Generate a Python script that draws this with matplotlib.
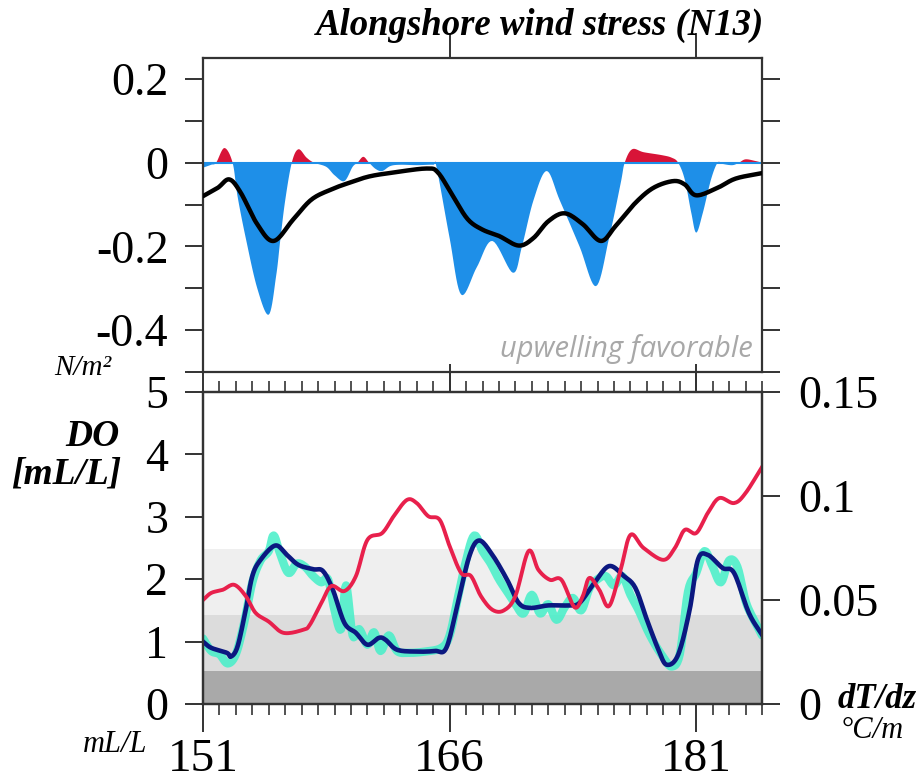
import matplotlib
matplotlib.use("Agg")
import matplotlib.pyplot as plt
import numpy as np

# ---------------- data ----------------
wind_day = [151.0, 151.5, 151.8, 152.3, 152.8, 153.1, 153.6, 154.3, 155.0, 155.45, 155.7, 156.0, 156.4,
            156.8, 157.3, 157.75, 158.5, 159.0, 159.6, 160.1, 160.4, 160.75, 161.1, 161.5, 161.9, 162.4,
            163.0, 164.0, 165.0, 165.2, 166.0, 166.7, 167.65, 168.6, 169.85, 170.4, 171.1, 171.9, 172.7,
            173.9, 174.9, 175.7, 176.4, 176.65, 177.1, 177.8, 178.9, 179.5, 179.9, 180.3, 180.7, 181.0,
            181.4, 181.9, 182.3, 182.6, 183.2, 183.6, 184.0, 184.6, 185.0]
wind_val = [-0.012, -0.005, 0.0, 0.035, 0.0, -0.08, -0.18, -0.30, -0.363, -0.27, -0.185, -0.09, 0.0,
            0.032, 0.012, 0.0, -0.01, -0.03, -0.044, -0.01, 0.0, 0.014, 0.0, -0.015, -0.02, -0.008,
            -0.005, -0.006, -0.005, -0.01, -0.18, -0.315, -0.25, -0.187, -0.263, -0.2, -0.09, -0.02, -0.09,
            -0.2, -0.295, -0.18, -0.05, 0.0, 0.032, 0.025, 0.018, 0.012, 0.0, -0.04, -0.12, -0.167,
            -0.12, -0.04, 0.0, -0.003, -0.006, 0.0, 0.008, 0.004, 0.0]

smooth_day = [151.0, 151.9, 152.6, 153.3, 154.3, 155.3, 156.5, 157.6, 158.8, 159.9, 161.1, 162.5, 164.6,
              165.3, 166.2, 167.1, 168.0, 169.0, 170.2, 171.1, 172.0, 173.0, 174.1, 175.2, 176.1, 177.3,
              178.4, 179.6, 180.3, 181.0, 182.3, 183.4, 185.0]
smooth_val = [-0.08, -0.06, -0.04, -0.072, -0.147, -0.187, -0.135, -0.088, -0.064, -0.048, -0.033, -0.024,
              -0.014, -0.024, -0.08, -0.135, -0.16, -0.175, -0.198, -0.18, -0.14, -0.121, -0.147, -0.187,
              -0.151, -0.096, -0.06, -0.044, -0.052, -0.078, -0.06, -0.038, -0.025]

do_day = [151.0, 151.5, 152.45, 152.7, 153.1, 153.6, 154.0, 154.5, 155.4, 156.1, 156.8, 157.7, 158.3,
          158.9, 159.6, 160.3, 161.0, 161.7, 162.1, 162.8, 164.0, 165.1, 165.8, 166.5, 167.2, 167.8,
          168.6, 169.5, 170.2, 170.9, 172.0, 173.2, 173.9, 174.8, 175.7, 176.6, 177.3, 178.0, 178.7,
          179.2, 179.9, 180.6, 181.1, 181.7, 182.6, 183.3, 184.2, 185.0]
do_val = [1.0, 0.9, 0.82, 0.76, 0.92, 1.51, 2.05, 2.31, 2.54, 2.39, 2.23, 2.16, 2.13,
          1.83, 1.30, 1.14, 0.95, 1.06, 1.03, 0.87, 0.84, 0.85, 0.9, 1.62, 2.37, 2.62,
          2.39, 1.99, 1.62, 1.54, 1.58, 1.58, 1.62, 1.94, 2.21, 2.05, 1.86, 1.35, 0.87,
          0.63, 0.79, 1.51, 2.31, 2.39, 2.18, 2.1, 1.46, 1.11]

raw_day = [151.0, 151.5, 152.0, 152.5, 153.0, 153.5, 154.0, 154.5, 155.0, 155.3, 155.7, 156.2, 156.7,
           157.2, 157.7, 158.2, 158.6, 159.0, 159.4, 159.7, 160.1, 160.5, 161.0, 161.4, 161.8, 162.3,
           162.8, 163.5, 164.5, 165.5, 166.0, 166.5, 167.0, 167.5, 168.0, 168.5, 169.0, 169.5, 170.0,
           170.5, 171.0, 171.5, 172.0, 172.5, 173.0, 173.5, 174.0, 174.5, 175.0, 175.5, 176.0, 176.5,
           177.0, 177.5, 178.0, 178.5, 179.0, 179.5, 180.0, 180.5, 181.0, 181.5, 182.0, 182.5, 183.0,
           183.5, 184.0, 184.5, 185.0]
raw_val = [1.05, 0.85, 0.8, 0.65, 0.8, 1.3, 1.95, 2.3, 2.45, 2.7, 2.4, 2.1, 2.25,
           2.2, 2.05, 1.95, 2.0, 1.5, 1.2, 1.9, 1.1, 1.2, 0.95, 1.15, 0.85, 1.1,
           0.85, 0.82, 0.84, 0.9, 1.1, 1.7, 2.3, 2.7, 2.45, 2.25, 2.0, 1.8, 1.6,
           1.45, 1.75, 1.45, 1.6, 1.35, 1.55, 1.7, 1.5, 1.85, 2.0, 2.05, 1.9, 2.05,
           1.75, 1.5, 1.2, 0.95, 0.75, 0.6, 0.8, 1.8, 2.1, 2.45, 2.2, 1.95, 2.3,
           2.2, 1.65, 1.35, 1.1]

dtdz_day = [151.0, 151.5, 152.2, 152.9, 153.6, 154.2, 155.0, 155.9, 157.1, 157.5, 158.2, 158.8, 159.6,
            160.3, 161.0, 161.9, 162.6, 163.4, 164.0, 164.7, 165.4, 166.0, 166.7, 167.3, 167.9, 168.6,
            169.3, 170.0, 170.8, 171.4, 172.1, 172.8, 173.6, 174.1, 174.5, 175.1, 175.7, 176.4, 177.0,
            177.8, 179.0, 179.7, 180.3, 181.0, 181.7, 182.4, 183.3, 184.0, 185.1]
dtdz_val = [0.050, 0.0534, 0.0549, 0.0573, 0.0519, 0.0438, 0.0396, 0.0342, 0.0357, 0.0381, 0.0486, 0.0567,
            0.0543, 0.0615, 0.0789, 0.0822, 0.0903, 0.0981, 0.0966, 0.0903, 0.0885, 0.0759, 0.063, 0.0615,
            0.0519, 0.0453, 0.045, 0.0519, 0.0735, 0.0645, 0.0597, 0.0597, 0.0465, 0.0519, 0.0606, 0.0549,
            0.0471, 0.0645, 0.0813, 0.075, 0.0693, 0.075, 0.0837, 0.0822, 0.0918, 0.099, 0.0966, 0.1014,
            0.1152]

xticks_major = [151, 166, 181]
top_yticks = [0.2, 0, -0.2, -0.4]
top_yticklabels = ["0.2", "0", "-0.2", "-0.4"]
do_ticks = [0, 1, 2, 3, 4, 5]
dtdz_ticks = [0, 0.05, 0.1, 0.15]
dtdz_ticklabels = ["0", "0.05", "0.1", "0.15"]
band_edges = [0, 0.53, 1.43, 2.48]
band_colors = ["#a9a9a9", "#dcdcdc", "#efefef"]


def smooth_path(x, y, n=12):
    """Catmull-Rom rendering of the read points (drawing only)."""
    x = np.asarray(x, float)
    y = np.asarray(y, float)
    px = np.concatenate([[2 * x[0] - x[1]], x, [2 * x[-1] - x[-2]]])
    py = np.concatenate([[2 * y[0] - y[1]], y, [2 * y[-1] - y[-2]]])
    t = np.linspace(0, 1, n, endpoint=False)[:, None]
    t2, t3 = t * t, t * t * t
    out = []
    for P in (px, py):
        p0, p1, p2, p3 = P[:-3], P[1:-2], P[2:-1], P[3:]
        seg = 0.5 * ((2 * p1) + (-p0 + p2) * t + (2 * p0 - 5 * p1 + 4 * p2 - p3) * t2
                     + (-p0 + 3 * p1 - 3 * p2 + p3) * t3)
        out.append(np.concatenate([seg.T.ravel(), [P[-2]]]))
    return out[0], out[1]


# ---------------- figure ----------------
SERIF = ["Liberation Serif", "DejaVu Serif"]
plt.rcParams["font.family"] = SERIF
fig = plt.figure(figsize=(9.24, 7.82), dpi=100)
L, R = 203 / 924, 762 / 924
ax1 = fig.add_axes([L, 1 - 372 / 782, R - L, (372 - 58) / 782])
ax2 = fig.add_axes([L, 1 - 704 / 782, R - L, (704 - 392) / 782])

spine_col = "#333333"
for ax in (ax1, ax2):
    for s in ax.spines.values():
        s.set_color(spine_col)
        s.set_linewidth(1.6)
    ax.set_xlim(151, 185)

# ---- top panel ----
wd, wv = smooth_path(wind_day, wind_val, n=10)
ax1.fill_between(wd, 0, wv, where=wv <= 0, interpolate=True, color="#1e8fe8", lw=0)
ax1.fill_between(wd, 0, wv, where=wv >= 0, interpolate=True, color="#d81438", lw=0)
ax1.axhline(0, color="#1e8fe8", lw=1.5, zorder=2)
sx, sy = smooth_path(smooth_day, smooth_val)
ax1.plot(sx, sy, color="black", lw=3.2, solid_joinstyle="round", solid_capstyle="round", zorder=3)
ax1.set_ylim(-0.5, 0.25)
ax1.set_yticks(top_yticks)
ax1.set_yticklabels(top_yticklabels)
ax1.set_yticks(np.arange(-0.5, 0.25, 0.1), minor=True)
ax1.tick_params(axis="y", which="both", direction="out", length=13, width=1.4,
                color=spine_col, left=True, right=True, labelsize=33, pad=12)
ax1.set_xticks(xticks_major[1:])
ax1.tick_params(axis="x", which="major", direction="out", length=18, width=1.4,
                color=spine_col, top=True, bottom=True, labelbottom=False)
ax1.text(0.983, 0.025, "upwelling favorable", transform=ax1.transAxes, ha="right", va="bottom",
         fontsize=21, color="#a8a8a8", style="italic", fontweight="normal",
         family=["Open Sans", "DejaVu Sans"])

fig.text(540 / 924, 1 - 25 / 782, "Alongshore wind stress (N13)", ha="center", va="center",
         fontsize=26.5, fontweight="bold", style="italic")
fig.text(83 / 924, 1 - 368 / 782, "N/m²", ha="center", va="center", fontsize=21, style="italic")

# ---- bottom panel ----
for i in range(len(band_colors)):
    ax2.axhspan(band_edges[i], band_edges[i + 1], color=band_colors[i], lw=0, zorder=0)
rx, ry = smooth_path(raw_day, raw_val, n=6)
ax2.plot(rx, ry, color="#45efc8", lw=6, alpha=0.85, solid_joinstyle="round",
         solid_capstyle="round", zorder=1)
dx, dy = smooth_path(do_day, do_val)
ax2.plot(dx, dy, color="#0b1880", lw=3.3, solid_joinstyle="round", zorder=3)
ax2.set_ylim(0, 5)
ax2.set_yticks(do_ticks)
ax2.tick_params(axis="y", direction="out", length=13, width=1.4, color=spine_col,
                labelsize=33, pad=12)
ax2.set_xticks(xticks_major)
ax2.set_xticks(np.arange(151, 186, 1), minor=True)
ax2.tick_params(axis="x", which="major", direction="out", length=20, width=1.4, color=spine_col,
                top=True, bottom=True, labelsize=34, pad=5)
ax2.tick_params(axis="x", which="minor", direction="out", length=8, width=1.2, color=spine_col,
                top=True, bottom=True)

ax3 = ax2.twinx()
tx, ty = smooth_path(dtdz_day, dtdz_val)
ax3.plot(tx, ty, color="#e8204c", lw=2.8, solid_joinstyle="round", zorder=2)
ax3.set_ylim(0, 0.15)
ax3.set_xlim(151, 185)
ax3.set_yticks(dtdz_ticks)
ax3.set_yticklabels(dtdz_ticklabels)
ax3.tick_params(axis="y", direction="out", length=13, width=1.4, color=spine_col,
                labelsize=33, pad=13)
for s in ax3.spines.values():
    s.set_color(spine_col)
    s.set_linewidth(1.6)
ax3.set_zorder(ax2.get_zorder() + 1)
ax3.patch.set_visible(False)

fig.text(92 / 924, 1 - 437 / 782, "DO", ha="center", va="center", fontsize=27,
         fontweight="bold", style="italic")
fig.text(66 / 924, 1 - 474 / 782, "[mL/L]", ha="center", va="center", fontsize=27,
         fontweight="bold", style="italic")
fig.text(877 / 924, 1 - 700 / 782, "dT/dz", ha="center", va="center", fontsize=25,
         fontweight="bold", style="italic")
fig.text(872 / 924, 1 - 731 / 782, "°C/m", ha="center", va="center", fontsize=22, style="italic")
fig.text(115 / 924, 1 - 745 / 782, "mL/L", ha="center", va="center", fontsize=22, style="italic")

fig.savefig("out.png", dpi=100, facecolor="white")
